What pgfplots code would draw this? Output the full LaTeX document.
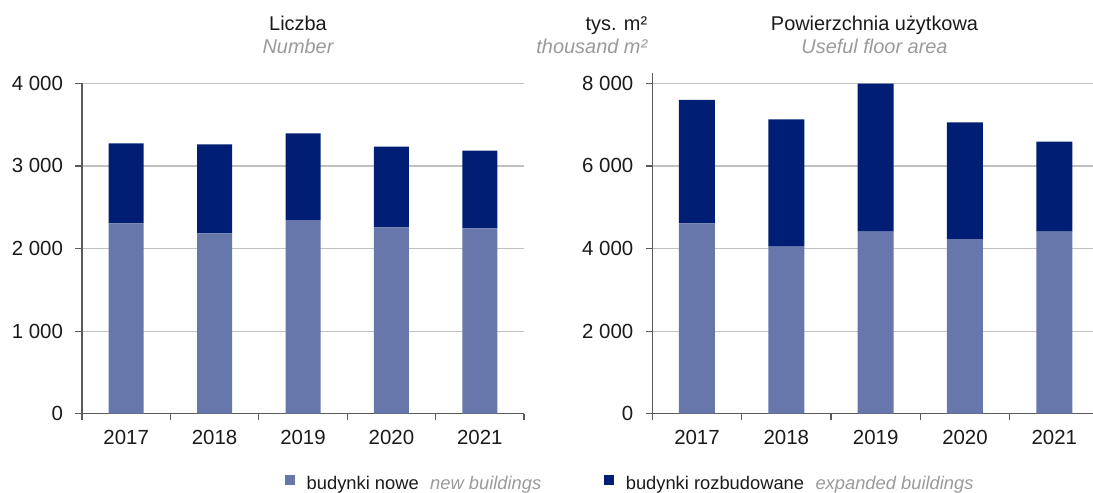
\documentclass[border=0pt]{standalone}
\usepackage{pgfplots}
\pgfplotsset{compat=1.18}
\usepackage{fontspec}
\setmainfont{Liberation Sans}
\definecolor{newc}{HTML}{6777AC}
\definecolor{expc}{HTML}{001E73}
\definecolor{gridc}{HTML}{C0C0C0}
\definecolor{axc}{HTML}{5A5A5A}
\definecolor{subc}{HTML}{9A9A9A}
\definecolor{txt}{HTML}{1A1A1A}
\pgfplotsset{
  mybars/.style={
    scale only axis,
    ybar stacked,
    xmin=-0.5, xmax=4.5,
    ymin=0,
    axis x line*=bottom, axis y line*=left,
    axis line style={draw=axc, line width=1.3bp},
    xtick={-0.5,0.5,...,4.5}, xticklabels={},
    extra x ticks={0,1,2,3,4},
    extra x tick labels={2017,2018,2019,2020,2021},
    extra x tick style={major tick length=0pt, grid=none},
    tick align=outside,
    major tick length=6.5bp,
    tick style={draw=axc, line width=1.2bp},
    ymajorgrids, grid style={draw=gridc, line width=1.2bp},
    ticklabel style={font=\fontsize{20.5}{24}\selectfont, text=txt},
    xticklabel style={yshift=-13bp},
    yticklabel style={xshift=-9bp},
    /pgf/number format/assume math mode=true,
    /pgf/number format/1000 sep={\ },
    /pgf/number format/fixed,
    scaled y ticks=false,
    legend image code/.code={\fill[##1] (0bp,-1bp) rectangle (10bp,9bp);},
    legend style={draw=none, fill=none, inner sep=0pt, outer sep=0pt,
      font=\fontsize{18.4}{22}\selectfont, text=txt,
      /tikz/column sep=0pt, nodes={inner sep=0pt}},
  }
}
\begin{document}
\begin{tikzpicture}
\useasboundingbox (0,-493bp) rectangle (1093bp,0);
\begin{axis}[mybars, at={(82bp,-413.7bp)}, anchor=south west,
  width=442bp, height=330.4bp, ymax=4000, ytick={0,1000,2000,3000,4000},
  bar width=35bp,
  legend style={at={(0.4593,-0.2097)}, anchor=west}]
\addlegendimage{fill=newc, draw=none}
\addlegendentry{\hspace{11.7bp}budynki nowe\hspace{11.4bp}{\color{subc}\itshape new buildings}}
\addplot[fill=newc, draw=none] coordinates {(0,2305) (1,2184) (2,2345) (3,2257) (4,2245)};
\addplot[fill=expc, draw=none] coordinates {(0,968) (1,1078) (2,1050) (3,975) (4,939)};
\end{axis}
\begin{axis}[mybars, at={(652.3bp,-413.7bp)}, anchor=south west,
  width=446.7bp, height=340.4bp, ymax=8242, ytick={0,2000,4000,6000,8000},
  bar width=36bp,
  legend style={at={(-0.1079,-0.2036)}, anchor=west}]
\addlegendimage{fill=expc, draw=none}
\addlegendentry{\hspace{11.7bp}budynki rozbudowane\hspace{11.4bp}{\color{subc}\itshape expanded buildings}}
\addplot[fill=newc, draw=none] coordinates {(0,4610) (1,4044) (2,4407) (3,4230) (4,4407)};
\addplot[fill=expc, draw=none] coordinates {(0,2986) (1,3084) (2,3588) (3,2826) (4,2179)};
\end{axis}
\tikzset{tt/.style={inner sep=0pt, font=\fontsize{20}{24}\selectfont, text=txt},
         st/.style={inner sep=0pt, font=\fontsize{20}{24}\selectfont\itshape, text=subc}}
\node[tt, anchor=base] at (298bp,-30.7bp) {Liczba};
\node[st, anchor=base] at (298bp,-53.3bp) {Number};
\node[tt, anchor=base] at (874.5bp,-30.7bp) {Powierzchnia użytkowa};
\node[st, anchor=base] at (874.5bp,-53.3bp) {Useful floor area};
\node[tt, anchor=base east] at (647.4bp,-30.7bp) {tys. m²};
\node[st, anchor=base east] at (647.4bp,-53.3bp) {thousand m²};
\end{tikzpicture}
\end{document}
